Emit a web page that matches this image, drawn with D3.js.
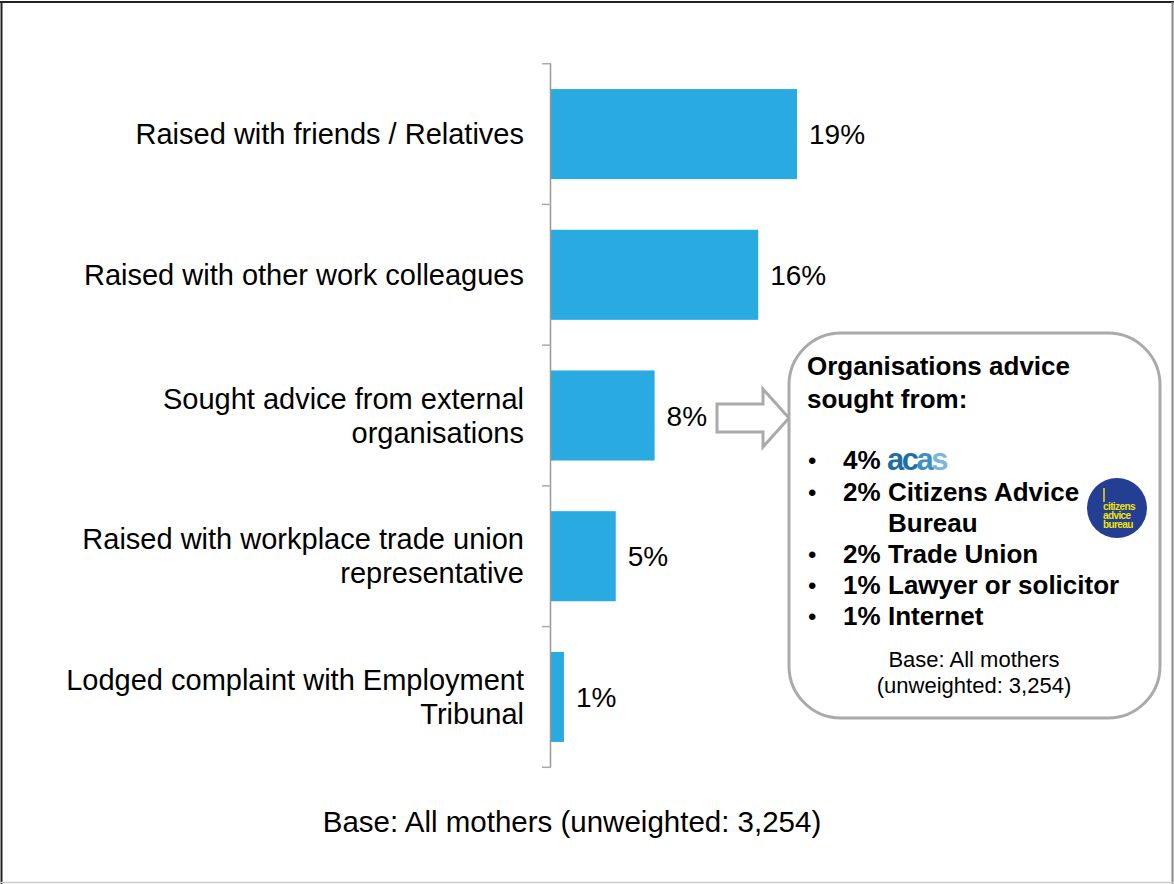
<!DOCTYPE html>
<html><head><meta charset="utf-8">
<script src="https://cdn.jsdelivr.net/npm/d3@7"></script>
<style>body{margin:0;background:#fff}svg{display:block;font-family:"Liberation Sans",Arial,sans-serif}</style>
</head><body>
<script>
const categories = [
  ["Raised with friends / Relatives"],
  ["Raised with other work colleagues"],
  ["Sought advice from external", "organisations"],
  ["Raised with workplace trade union", "representative"],
  ["Lodged complaint with Employment", "Tribunal"]
];
const values = [19, 16, 8, 5, 1];
const valueLabels = ["19%", "16%", "8%", "5%", "1%"];
const calloutTitle = ["Organisations advice", "sought from:"];
const calloutPct = ["4%", "2%", "2%", "1%", "1%"];
const calloutNames = [["acas"], ["Citizens Advice", "Bureau"], ["Trade Union"], ["Lawyer or solicitor"], ["Internet"]];
const baseNote = "Base: All mothers (unweighted: 3,254)";
const calloutBase = ["Base: All mothers", "(unweighted: 3,254)"];

const W = 1174, H = 884;
const svg = d3.select("body").append("svg").attr("width", W).attr("height", H);

// frame
svg.append("line").attr("x1",0).attr("x2",W).attr("y1",2).attr("y2",2).attr("stroke","#222").attr("stroke-width",2);
svg.append("line").attr("x1",1.5).attr("x2",1.5).attr("y1",1).attr("y2",H).attr("stroke","#222").attr("stroke-width",2);
svg.append("line").attr("x1",1172.5).attr("x2",1172.5).attr("y1",2).attr("y2",H).attr("stroke","#888").attr("stroke-width",2);
svg.append("line").attr("x1",0).attr("x2",W).attr("y1",882.5).attr("y2",882.5).attr("stroke","#ccc").attr("stroke-width",1.5);

const idx = d3.range(values.length);
const y = d3.scaleBand().domain(idx).range([64, 767]).paddingInner(0.36).paddingOuter(0.178);
const x = d3.scaleLinear().domain([0, 20]).range([551, 551 + 259]);

// bars
svg.selectAll("rect.bar").data(idx).join("rect").attr("class","bar")
  .attr("x", x(0)).attr("y", d => y(d)).attr("width", d => x(values[d]) - x(0)).attr("height", y.bandwidth())
  .attr("fill", "#29abe2");

// axis
const step = y.step(), gap = (step - y.bandwidth())/2;
const boundaries = idx.map(d => y(d) - gap).concat([y(idx.length-1) + y.bandwidth() + gap]);
svg.append("line").attr("x1",550.5).attr("x2",550.5).attr("y1",boundaries[0]).attr("y2",boundaries[boundaries.length-1]).attr("stroke","#999").attr("stroke-width",1.5);
svg.selectAll("line.tick").data(boundaries).join("line").attr("class","tick")
  .attr("x1",542).attr("x2",551).attr("y1",d=>d).attr("y2",d=>d).attr("stroke","#aaa").attr("stroke-width",1.5);

// category labels
const lh = 34;
idx.forEach(i => {
  const lines = categories[i];
  const cy = y(i) + y.bandwidth()/2;
  const t = svg.append("text").attr("x", 524).attr("text-anchor","end").attr("font-size",29).attr("fill","#000");
  lines.forEach((l, k) => {
    t.append("tspan").attr("x",524).attr("y", cy + (k - (lines.length-1)/2)*lh + 10).text(l);
  });
});

// value labels
svg.selectAll("text.val").data(idx).join("text").attr("class","val")
  .attr("x", d => x(values[d]) + 12).attr("y", d => y(d) + y.bandwidth()/2 + 10)
  .attr("font-size",28).attr("fill","#000").text(d => valueLabels[d]);

// arrow
const ay = 418;
svg.append("path").attr("d", `M717,${ay-14} L763,${ay-14} L763,${ay-29} L789,${ay} L763,${ay+29} L763,${ay+14} L717,${ay+14} Z`)
  .attr("fill","#fff").attr("stroke","#aaa").attr("stroke-width",3);

// callout box
svg.append("rect").attr("x",789).attr("y",333).attr("width",371).attr("height",385).attr("rx",52).attr("ry",52)
  .attr("fill","#fff").attr("stroke","#aaa").attr("stroke-width",3);

calloutTitle.forEach((l,k) => {
  svg.append("text").attr("x",807).attr("y",375 + k*33).attr("font-size",26).attr("font-weight","bold").text(l);
});
const rowY = [469, 501, 563, 594, 625];
calloutPct.forEach((p,i) => {
  svg.append("text").attr("x",808).attr("y",rowY[i]).attr("font-size",24).text("•");
  svg.append("text").attr("x",843).attr("y",rowY[i]).attr("font-size",26).attr("font-weight","bold").text(p);
  if (i === 0) {
    const lg = svg.append("text").attr("x",887).attr("y",rowY[i]+1).attr("font-size",31).attr("font-weight","bold").attr("letter-spacing",-2.5);
    lg.append("tspan").attr("fill","#1f6ea3").text("ac");
    lg.append("tspan").attr("fill","#3d8fc4").text("a");
    lg.append("tspan").attr("fill","#7cb6dc").text("s");
  } else {
    calloutNames[i].forEach((n,k) => {
      svg.append("text").attr("x", 888).attr("y", rowY[i] + k*31).attr("font-size",26).attr("font-weight","bold").text(n);
    });
  }
});

// CAB logo
const cab = svg.append("g").attr("transform","translate(1117,508)");
cab.append("circle").attr("r",30).attr("fill","#243e93");
cab.append("line").attr("x1",-13).attr("x2",-13).attr("y1",-20).attr("y2",-6).attr("stroke","#f0e500").attr("stroke-width",1.5);
["citizens","advice","bureau"].forEach((w,k) => {
  cab.append("text").attr("x",-14).attr("y",2 + k*9).attr("font-size",10).attr("font-weight","bold").attr("fill","#f0e500").attr("letter-spacing",-0.6).text(w);
});

calloutBase.forEach((l,k) => {
  svg.append("text").attr("x",974).attr("y",667 + k*26).attr("text-anchor","middle").attr("font-size",22).text(l);
});

svg.append("text").attr("x",572).attr("y",832).attr("text-anchor","middle").attr("font-size",29.5).text(baseNote);
</script>
</body></html>
